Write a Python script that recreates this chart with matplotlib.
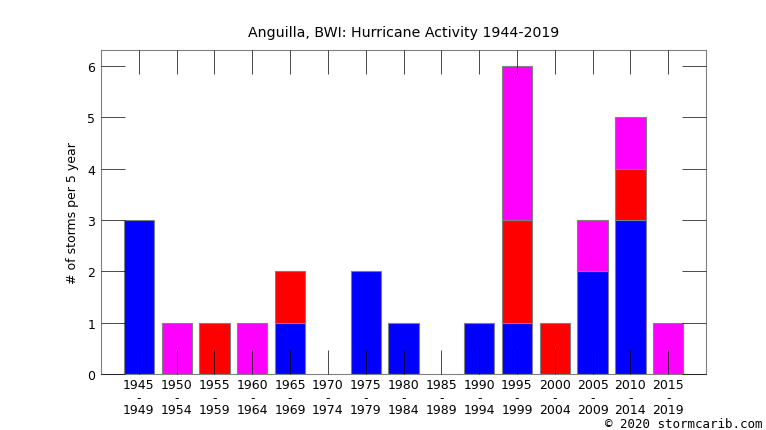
import matplotlib
matplotlib.use("Agg")
import matplotlib.pyplot as plt
import numpy as np

periods = ["1945\n-\n1949", "1950\n-\n1954", "1955\n-\n1959", "1960\n-\n1964",
           "1965\n-\n1969", "1970\n-\n1974", "1975\n-\n1979", "1980\n-\n1984",
           "1985\n-\n1989", "1990\n-\n1994", "1995\n-\n1999", "2000\n-\n2004",
           "2005\n-\n2009", "2010\n-\n2014", "2015\n-\n2019"]
blue_counts = [3, 0, 0, 0, 1, 0, 2, 1, 0, 1, 1, 0, 2, 3, 0]
red_counts = [0, 0, 1, 0, 1, 0, 0, 0, 0, 0, 2, 1, 0, 1, 0]
magenta_counts = [0, 1, 0, 1, 0, 0, 0, 0, 0, 0, 3, 0, 1, 1, 1]

x = np.arange(len(periods))
blue = np.array(blue_counts)
red = np.array(red_counts)
magenta = np.array(magenta_counts)

fig = plt.figure(figsize=(7.66, 4.31), dpi=100)
ax = fig.add_axes([101 / 766, 56 / 431, 605 / 766, 324 / 431])

w = 0.8
stack = [(blue, np.zeros_like(blue), "#0000ff"),
         (red, blue, "#ff0000"),
         (magenta, blue + red, "#ff00ff")]
for vals, base, col in stack:
    m = vals > 0
    ax.bar(x[m], vals[m], w, bottom=base[m], color=col, edgecolor="#808080",
           linewidth=0.8, zorder=1)

ax.set_axisbelow(False)  # ticks drawn over the bars
ax.set_xlim(-1, len(periods))
ax.set_ylim(0, 6.31)
ax.set_xticks(x)
ax.set_xticklabels(periods, fontsize=9, linespacing=0.95)
ax.set_yticks(range(7))
# thin black ticks: grey on white, dark over the bars
ax.tick_params(axis="both", direction="in", length=17, width=0.5, color="black",
               top=True, right=True, labelsize=9)
ax.tick_params(axis="y", pad=4)
ax.tick_params(axis="x", pad=3)
for s in ax.spines.values():
    s.set_color("#808080")
    s.set_linewidth(0.8)

ax.set_title("Anguilla, BWI: Hurricane Activity 1944-2019", fontsize=10.2, pad=10)
ax.set_ylabel("# of storms per 5 year", fontsize=9, labelpad=6)
fig.text(0.995, 0.0, "\u00a9 2020 stormcarib.com", family="DejaVu Sans Mono",
         fontsize=9, ha="right", va="bottom")

fig.savefig("out.png", dpi=100)
